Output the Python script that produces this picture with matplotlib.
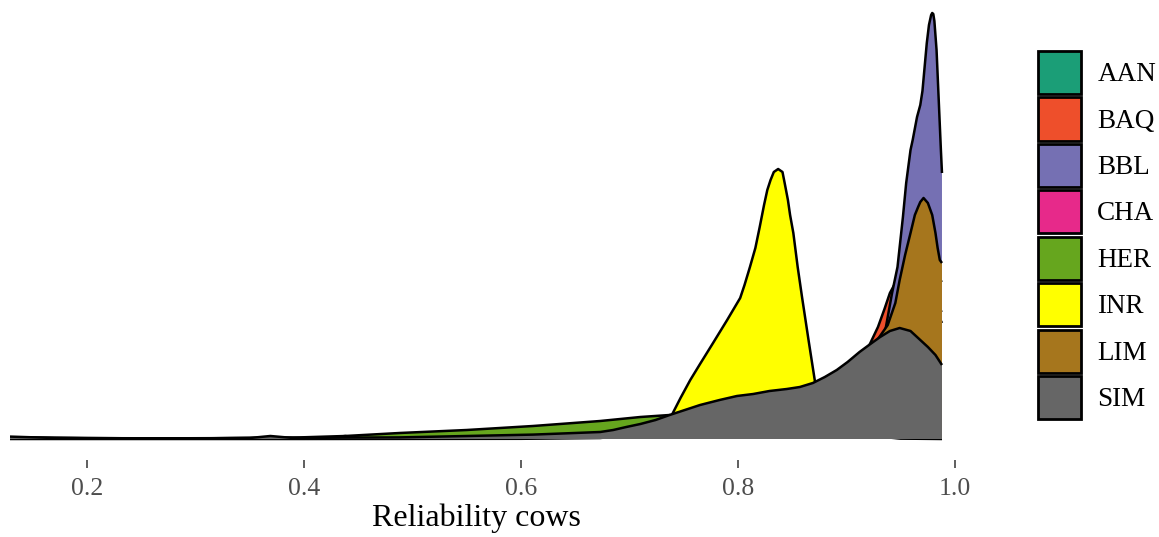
import matplotlib
matplotlib.use("Agg")
import matplotlib.pyplot as plt
from matplotlib.patches import Patch

plt.rcParams["font.family"] = ["Liberation Serif", "DejaVu Serif"]

HERDS = ["AAN", "BAQ", "BBL", "CHA", "HER", "INR", "LIM", "SIM"]
COLORS = ["#1B9E77", "#EE4F2B", "#7570B3", "#E7298A",
          "#66A61E", "#FFFF00", "#A6761D", "#666666"]

# density curves (reliability, density)
AAN_X = [0.129, 0.25, 0.37, 0.5, 0.65, 0.8, 0.85, 0.9, 0.93, 0.95, 0.965, 0.975, 0.988]
AAN_Y = [0.08, 0.03, 0.05, 0.03, 0.1, 0.4, 0.8, 2.5, 4.0, 5.8, 6.8, 7.0, 6.35]

BAQ_X = [0.129, 0.3, 0.45, 0.6, 0.75, 0.8, 0.85, 0.89, 0.912, 0.922, 0.929, 0.935,
         0.940, 0.945, 0.949, 0.954, 0.959, 0.968, 0.977, 0.988]
BAQ_Y = [0.03, 0.02, 0.05, 0.05, 0.1, 0.3, 1.0, 2.5, 3.6, 4.8, 5.6, 6.5,
         7.3, 7.8, 8.1, 8.4, 8.5, 8.0, 7.0, 5.8]

BBL_X = [0.129, 0.4, 0.6, 0.8, 0.88, 0.912, 0.931, 0.942, 0.947, 0.952, 0.955, 0.959,
         0.961, 0.965, 0.968, 0.970, 0.972, 0.974, 0.976, 0.978, 0.979, 0.980,
         0.981, 0.983, 0.985, 0.987, 0.988]
BBL_Y = [0.05, 0.02, 0.05, 0.3, 1.0, 2.0, 4.0, 7.3, 8.6, 11.1, 12.8, 14.45,
         14.95, 16.1, 16.7, 17.4, 18.6, 19.8, 20.7, 21.2, 21.3, 21.25,
         20.9, 19.45, 16.95, 14.45, 13.3]

CHA_X = [0.129, 0.3, 0.5, 0.7, 0.8, 0.85, 0.9, 0.93, 0.945, 0.96, 0.97, 0.98, 0.988]
CHA_Y = [0.05, 0.02, 0.04, 0.1, 0.4, 1.0, 2.0, 4.2, 5.8, 8.0, 8.5, 8.3, 7.85]

HER_X = [0.129, 0.2, 0.3, 0.396, 0.438, 0.488, 0.550, 0.611, 0.673, 0.710, 0.737,
         0.765, 0.811, 0.857, 0.903, 0.95, 0.988]
HER_Y = [0.06, 0.02, 0.03, 0.08, 0.15, 0.3, 0.45, 0.65, 0.9, 1.1, 1.2,
         1.1, 0.75, 0.4, 0.15, 0.05, 0.02]

INR_X = [0.129, 0.4, 0.6, 0.673, 0.719, 0.728, 0.739, 0.747, 0.756, 0.765, 0.777,
         0.790, 0.802, 0.806, 0.811, 0.816, 0.820, 0.824, 0.827, 0.830, 0.833,
         0.837, 0.841, 0.843, 0.846, 0.848, 0.851, 0.855, 0.859, 0.865, 0.871,
         0.885, 0.903, 0.95, 0.988]
INR_Y = [0.0, 0.0, 0.01, 0.05, 0.3, 0.6, 1.2, 2.05, 2.95, 3.75, 4.8,
         5.95, 7.05, 7.7, 8.6, 9.55, 10.6, 11.7, 12.45, 12.95, 13.35,
         13.5, 13.35, 12.8, 11.95, 11.2, 10.3, 8.6, 7.1, 4.95, 2.85,
         1.0, 0.25, 0.02, 0.0]

LIM_X = [0.129, 0.3, 0.42, 0.438, 0.455, 0.6, 0.75, 0.857, 0.894, 0.912, 0.929,
         0.938, 0.945, 0.949, 0.954, 0.959, 0.963, 0.966, 0.968, 0.971, 0.975,
         0.979, 0.982, 0.984, 0.986, 0.988]
LIM_Y = [0.03, 0.02, 0.03, 0.15, 0.03, 0.05, 0.2, 0.5, 1.5, 3.0, 5.0,
         5.7, 6.8, 7.95, 9.2, 10.3, 11.2, 11.6, 11.85, 12.05, 11.8,
         11.2, 10.3, 9.55, 8.95, 8.8]

SIM_X = [0.129, 0.17, 0.212, 0.3, 0.35, 0.369, 0.39, 0.438, 0.488, 0.550, 0.611,
         0.640, 0.673, 0.685, 0.697, 0.710, 0.724, 0.737, 0.751, 0.765, 0.783,
         0.799, 0.814, 0.829, 0.845, 0.857, 0.869, 0.880, 0.891, 0.901, 0.912,
         0.922, 0.931, 0.940, 0.949, 0.959, 0.968, 0.975, 0.982, 0.988]
SIM_Y = [0.12, 0.05, 0.03, 0.03, 0.05, 0.15, 0.05, 0.07, 0.08, 0.15, 0.22,
         0.28, 0.35, 0.45, 0.6, 0.75, 0.95, 1.2, 1.45, 1.7, 1.95,
         2.15, 2.25, 2.4, 2.5, 2.6, 2.8, 3.1, 3.45, 3.85, 4.35,
         4.75, 5.1, 5.4, 5.55, 5.4, 4.95, 4.6, 4.2, 3.7]

CURVES = [(AAN_X, AAN_Y), (BAQ_X, BAQ_Y), (BBL_X, BBL_Y), (CHA_X, CHA_Y),
          (HER_X, HER_Y), (INR_X, INR_Y), (LIM_X, LIM_Y), (SIM_X, SIM_Y)]

TICKS = [0.2, 0.4, 0.6, 0.8, 1.0]

W, H = 1159, 537
fig = plt.figure(figsize=(W / 100, H / 100), dpi=100)
ax = fig.add_axes([10 / W, 1 - 460 / H, 945 / W, 460 / H])

for i, ((xs, ys), color) in enumerate(zip(CURVES, COLORS)):
    ax.fill_between(xs, 0, ys, facecolor=color, edgecolor="none", zorder=2 * i + 1)
    ax.plot(xs, ys, color="black", linewidth=1.8, zorder=2 * i + 2,
            solid_joinstyle="round", solid_capstyle="butt")

ax.set_xlim(0.129, 1.0)
ax.set_ylim(-1.05, 21.95)
ax.set_xticks(TICKS)
ax.set_xticklabels([f"{t:.1f}" for t in TICKS])
ax.tick_params(axis="x", length=6, width=1.1, color="#333333", pad=7,
               labelsize=18.5, labelcolor="#4D4D4D")
ax.set_yticks([])
for spine in ax.spines.values():
    spine.set_visible(False)
ax.set_xlabel("Reliability cows", fontsize=23, color="black")
ax.xaxis.set_label_coords((476 - 10) / 945, -(533 - 460) / 460, transform=ax.transAxes)
ax.xaxis.label.set_va("bottom")

handles = [Patch(facecolor=c, edgecolor="black", linewidth=2) for c in COLORS]
fig.legend(handles, HERDS, loc="upper left",
           bbox_to_anchor=(1038 / W, 1 - 51 / H),
           frameon=False, fontsize=19.5, handlelength=1.59, handleheight=2.07,
           labelspacing=0.125, handletextpad=0.6, borderpad=0, borderaxespad=0)

fig.savefig("out.png", dpi=100)
